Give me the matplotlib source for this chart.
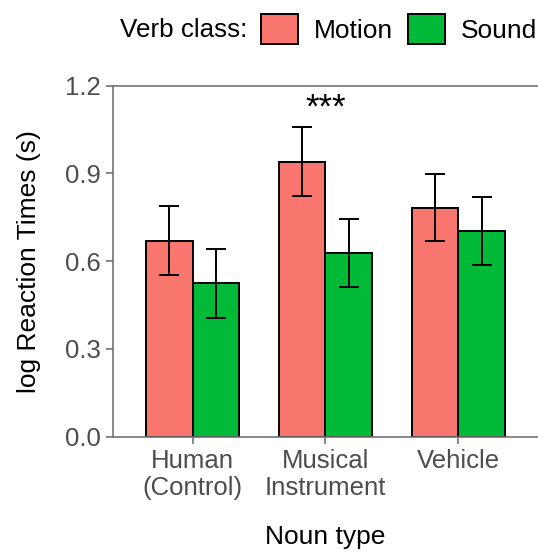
import numpy as np
import matplotlib.pyplot as plt
from matplotlib.patches import Patch

plt.rcParams['font.family'] = ['Liberation Sans', 'DejaVu Sans']

# mean log RT and standard error per noun type
nouns = ['Human\n(Control)', 'Musical\nInstrument', 'Vehicle']
motion = [0.670, 0.940, 0.783]
motion_se = [0.117, 0.117, 0.116]
sound = [0.524, 0.627, 0.703]
sound_se = [0.117, 0.117, 0.116]
classes = ['Motion', 'Sound']
colors = ['#F8766D', '#00BA38']

fig = plt.figure(figsize=(5.38, 5.52), dpi=100)
ax = fig.add_axes([0.210, 0.209, 0.790, 0.636])

x = np.arange(1, len(nouns) + 1)
w = 0.35
for off, vals, se, col in [(-w / 2, motion, motion_se, colors[0]),
                           (w / 2, sound, sound_se, colors[1])]:
    ax.bar(x + off, vals, width=w, color=col, edgecolor='black', linewidth=1.4, zorder=2)
    ax.errorbar(x + off, vals, yerr=se, fmt='none', ecolor='black',
                elinewidth=1.4, capsize=7.2, capthick=1.4, zorder=3)

# significance marker over musical instrument
ax.text(2, 1.092, '***', ha='center', va='baseline', fontsize=25)

ax.set_xlim(0.4, 3.6)
ax.set_ylim(0, 1.2)
ax.set_yticks([0, 0.3, 0.6, 0.9, 1.2])
ax.set_yticklabels(['0.0', '0.3', '0.6', '0.9', '1.2'])
ax.set_xticks(x)
ax.set_xticklabels(nouns, linespacing=1.15)

for s in ['left', 'bottom', 'top']:
    ax.spines[s].set_color('#737373')
    ax.spines[s].set_linewidth(1.2)
ax.spines['right'].set_visible(False)
ax.tick_params(colors='#737373', labelcolor='#4D4D4D', labelsize=18.5, length=5, width=1.2, pad=4)

ax.set_xlabel('Noun type', fontsize=19, labelpad=18)
ax.set_ylabel('log Reaction Times (s)', fontsize=19, labelpad=17)

handles = [Patch(facecolor=c, edgecolor='black', linewidth=1.4) for c in colors]
fig.legend(handles, classes, loc='center left', bbox_to_anchor=(0.486, 0.947),
           ncol=2, frameon=False, fontsize=19, handlelength=1.4, handleheight=1.4,
           handletextpad=0.6, columnspacing=0.57, borderpad=0, borderaxespad=0)
fig.text(0.459, 0.946, 'Verb class:', ha='right', va='center', fontsize=18.7)

fig.savefig('out.png', dpi=100)
